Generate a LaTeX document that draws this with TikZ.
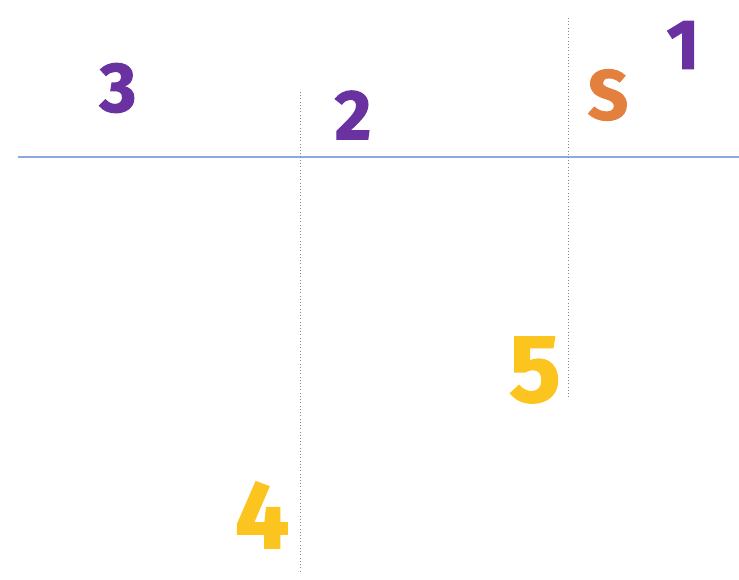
\documentclass[tikz,border=0pt]{standalone}
\usepackage{fontspec}
\setmainfont{Fira Sans}[BoldFeatures={FakeBold=1.6}]
\usepackage{tikz}
\usetikzlibrary{positioning}
\definecolor{moradoCifra}{RGB}{106, 50, 160}
\definecolor{naranjaLetra}{RGB}{228, 128, 62}
\definecolor{amarilloCifra}{RGB}{252, 196, 30}
\definecolor{azulLinea}{RGB}{140, 170, 225}
\definecolor{grisPunteado}{RGB}{120, 135, 170}
\tikzset{
  cifra/.style={inner sep=0pt, font=\fontsize{50}{50}\selectfont\bfseries},
  cifraGrande/.style={inner sep=0pt, font=\fontsize{68}{68}\selectfont\bfseries},
  punteado/.style={grisPunteado, line width=0.6pt, dash pattern=on 0.7pt off 1.6pt}
}
\begin{document}
\begin{tikzpicture}
        \useasboundingbox (0,0) rectangle (18.475,14.5);
        \draw[azulLinea, line width=1pt] (0.45,10.575) -- (18.475,10.575);
        \draw[punteado] (7.5,12.2) -- (7.5,0.2);
        \draw[punteado] (14.2,14.05) -- (14.2,4.575);
        \node[cifra, text=moradoCifra] (tres) at (2.95,12.3) {3};
        \node[cifra, text=moradoCifra] (dos) at (8.825,11.625) {2};
        \node[cifra, text=naranjaLetra] (ese) at (15.2,12.125) {S};
        \node[cifra, text=moradoCifra] (uno) at (17.075,13.375) {1};
        \node[cifraGrande, text=amarilloCifra] (cinco) at (13.375,5.25) {5};
        \node[cifraGrande, text=amarilloCifra] (cuatro) at (6.55,1.625) {4};
    \end{tikzpicture}
\end{document}
